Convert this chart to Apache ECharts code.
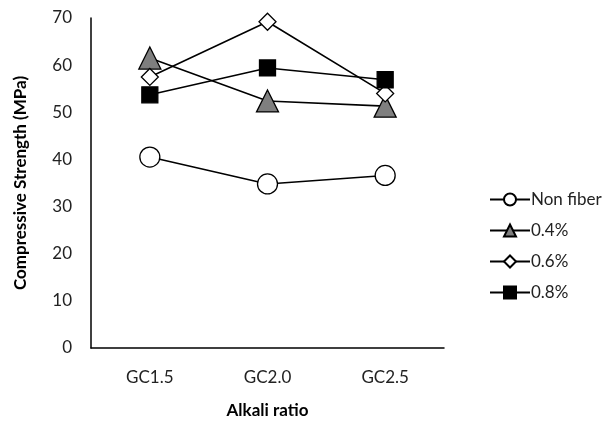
<!DOCTYPE html>
<html><head><meta charset="utf-8">
<script src="https://cdn.jsdelivr.net/npm/echarts@6/dist/echarts.min.js"></script>
<style>html,body{margin:0;padding:0;background:#fff}#c{width:610px;height:424px}</style>
</head><body><div id="c"></div>
<script>
const categories = ['GC1.5', 'GC2.0', 'GC2.5'];
const nonFiber = [40.5, 34.8, 36.6];
const fiber04 = [61.5, 52.4, 51.3];
const fiber06 = [57.5, 69.2, 54.0];
const fiber08 = [53.7, 59.4, 56.9];
const yTicks = [0, 10, 20, 30, 40, 50, 60, 70];

const font = 'Lato, "Open Sans", sans-serif';
const chart = echarts.init(document.getElementById('c'));
function s(name, data, symbol, size, fill) {
  return {
    name, type: 'line', data, symbol, symbolSize: size,
    lineStyle: { color: '#000', width: 1.6 },
    itemStyle: { color: fill, borderColor: '#000', borderWidth: 1.3 },
    emphasis: { disabled: true }
  };
}
chart.setOption({
  animation: false,
  textStyle: { fontFamily: font },
  grid: { left: 91, right: 166, top: 18, bottom: 74 },
  xAxis: {
    type: 'category', data: categories, boundaryGap: true,
    name: 'Alkali ratio', nameLocation: 'middle', nameGap: 54,
    nameTextStyle: { fontFamily: font, fontSize: 17, fontWeight: 'bold', color: '#000' },
    axisLine: { lineStyle: { color: '#000', width: 1.5 } },
    axisTick: { show: false },
    axisLabel: { fontFamily: font, fontSize: 17, color: '#222', margin: 21 }
  },
  yAxis: {
    type: 'value', min: yTicks[0], max: yTicks[yTicks.length - 1], interval: 10,
    name: 'Compressive Strength (MPa)', nameLocation: 'middle', nameGap: 62,
    nameTextStyle: { fontFamily: font, fontSize: 17, fontWeight: 'bold', color: '#000' },
    axisLine: { show: true, lineStyle: { color: '#000', width: 1.5 } },
    axisTick: { show: false },
    splitLine: { show: false },
    axisLabel: { fontFamily: font, fontSize: 17, color: '#222', margin: 19 }
  },
  legend: {
    orient: 'vertical', left: 484, top: 185, itemGap: 12,
    itemWidth: 40, itemHeight: 15,
    textStyle: { fontFamily: font, fontSize: 17, color: '#222', padding: [0, 0, 0, -4], lineHeight: 19 },
    data: ['Non fiber', '0.4%', '0.6%', '0.8%']
  },
  series: [
    s('Non fiber', nonFiber, 'circle', 20, '#fff'),
    s('0.4%', fiber04, 'triangle', 22, '#7f7f7f'),
    s('0.6%', fiber06, 'diamond', 17, '#fff'),
    s('0.8%', fiber08, 'rect', 16, '#000')
  ]
});
</script></body></html>
